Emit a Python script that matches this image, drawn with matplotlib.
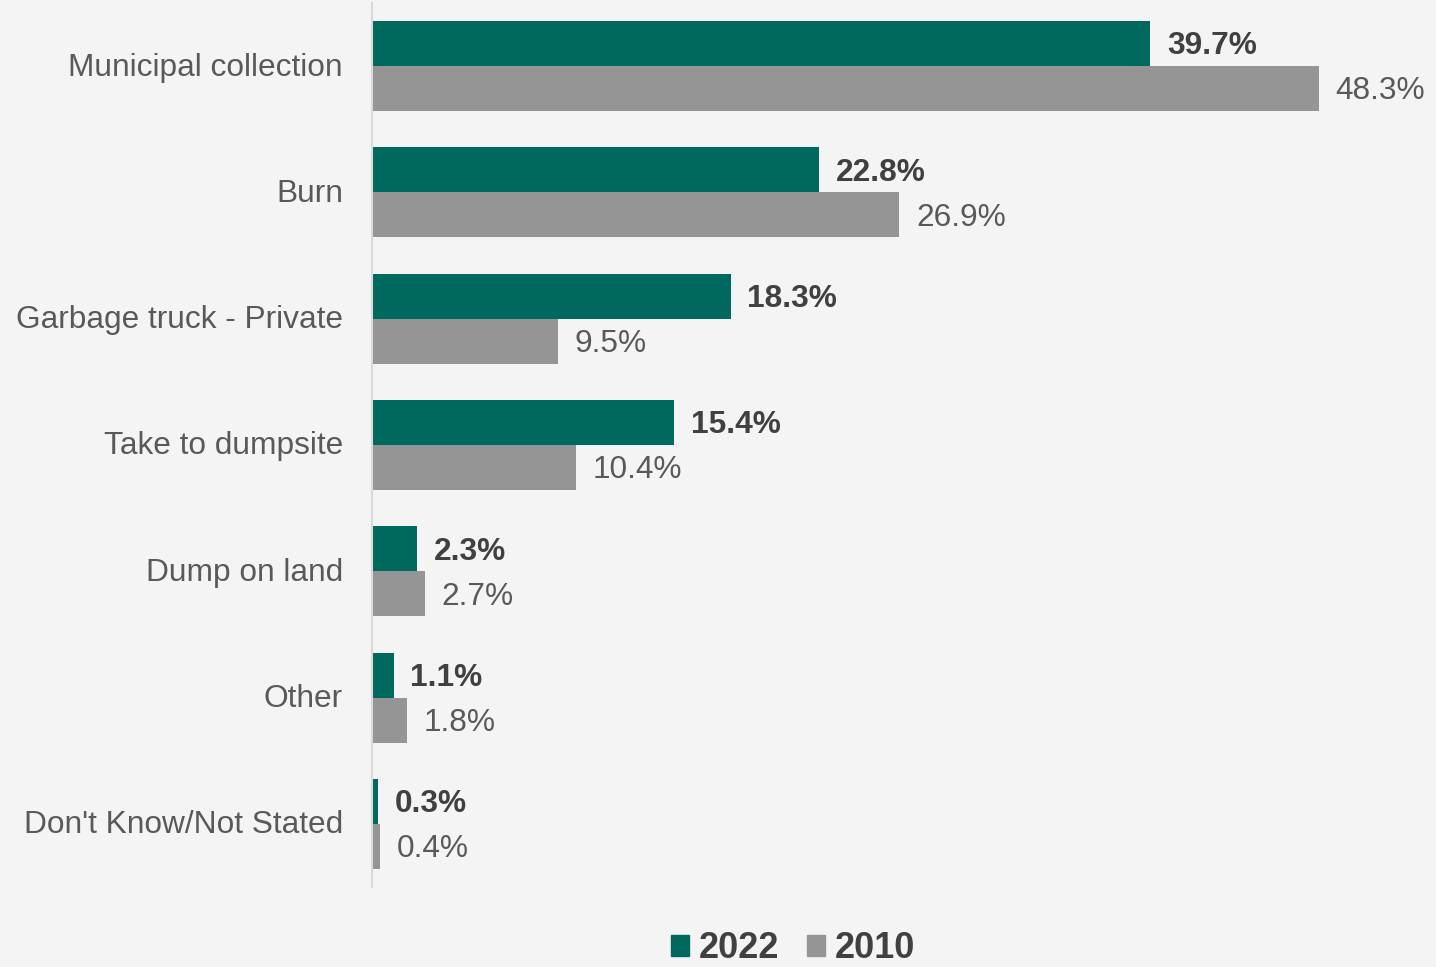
import numpy as np
import matplotlib.pyplot as plt
import matplotlib.transforms as mtransforms
from matplotlib.patches import Patch

categories = ["Municipal collection", "Burn", "Garbage truck - Private",
              "Take to dumpsite", "Dump on land", "Other", "Don't Know/Not Stated"]
values_2022 = [39.7, 22.8, 18.3, 15.4, 2.3, 1.1, 0.3]
values_2010 = [48.3, 26.9, 9.5, 10.4, 2.7, 1.8, 0.4]

teal = "#00695F"
grey = "#959595"
bg = "#F4F4F4"

plt.rcParams['font.family'] = ['Liberation Sans', 'DejaVu Sans']

fig = plt.figure(figsize=(14.36, 9.67), dpi=100, facecolor=bg)
ax = fig.add_axes([372 / 1436, 1 - 887 / 967, 1 - 372 / 1436, 884 / 967])
ax.set_facecolor(bg)

y = np.arange(len(categories))
h = 0.356
ax.barh(y - h / 2, values_2022, height=h, color=teal)
ax.barh(y + h / 2, values_2010, height=h, color=grey)

for yi, v in zip(y, values_2022):
    ax.annotate(f"{v:.1f}%", (v, yi - h / 2), xytext=(12, -2), textcoords="offset points",
                va="center", ha="left", fontsize=22.8, fontweight="bold", color="#404040")
for yi, v in zip(y, values_2010):
    ax.annotate(f"{v:.1f}%", (v, yi + h / 2), xytext=(12, -2), textcoords="offset points",
                va="center", ha="left", fontsize=22.8, color="#595959")

ax.set_xlim(0, 1064 / 19.6)
ax.set_ylim(len(categories) - 0.5, -0.5)
ax.set_yticks(y)
ax.set_yticklabels(categories, fontsize=22.8, color="#595959")
ax.tick_params(axis="y", length=0, pad=21)
# nudge category labels up slightly
shift = mtransforms.ScaledTranslation(0, 1.5 / 72, fig.dpi_scale_trans)
for lbl in ax.get_yticklabels():
    lbl.set_transform(lbl.get_transform() + shift)
ax.set_xticks([])
for s in ["top", "right", "bottom"]:
    ax.spines[s].set_visible(False)
ax.spines["left"].set_color("#D9D9D9")
ax.spines["left"].set_linewidth(1.5)

handles = [Patch(color=teal, label="2022"), Patch(color=grey, label="2010")]
fig.legend(handles=handles, loc="center", bbox_to_anchor=(0.552, 0.019), ncol=2,
           frameon=False, prop={"size": 26, "weight": "bold"}, labelcolor="#404040",
           handlelength=0.52, handleheight=0.52, handletextpad=0.25, columnspacing=0.77)

fig.savefig("out.png", dpi=100, facecolor=bg)
